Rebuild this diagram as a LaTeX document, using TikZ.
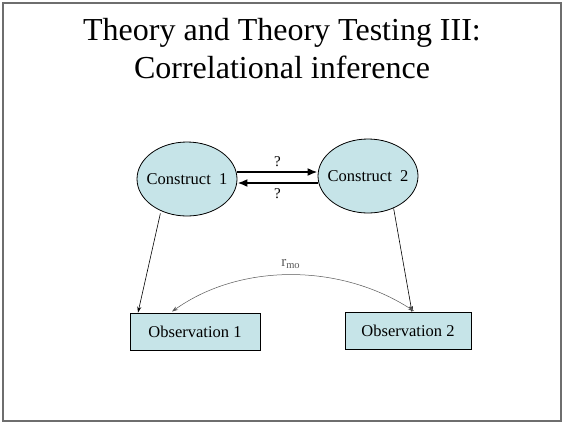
\documentclass[tikz,border=0pt]{standalone}
\usepackage{fontspec}
\setmainfont{Liberation Serif}
\usetikzlibrary{positioning,arrows.meta,shapes.geometric}
\definecolor{boxfill}{HTML}{C6E4E8}
\definecolor{framegray}{HTML}{6E6E6E}

\begin{document}
\begin{tikzpicture}[
    x=1pt, y=-1pt,
    construct/.style={draw, ellipse, fill=boxfill, line width=0.8pt, minimum width=100pt, minimum height=74pt, inner xsep=-11pt, inner ysep=0pt, font=\fontsize{16.5}{18}\selectfont},
    obsbox/.style={draw, rectangle, fill=boxfill, line width=0.8pt, minimum height=37pt, inner sep=0pt, font=\fontsize{16.5}{18}\selectfont},
    causal/.style={-{Latex[length=10pt, width=8pt]}, line width=2pt},
    measure/.style={-{Stealth[length=6pt, width=4pt]}, line width=0.6pt},
    corr/.style={{Stealth[length=6pt, width=4pt]}-{Stealth[length=6pt, width=4pt]}, line width=0.5pt, gray!70!black},
    label/.style={font=\fontsize{15}{17}\selectfont}
]
% Frame
\draw[framegray, line width=1.2pt, fill=white] (3,3) rectangle (561,421);
\useasboundingbox (0,0) rectangle (564,424);

% Title
\node[align=center, font=\fontsize{32}{38}\selectfont] (title) at (282,49) {Theory and Theory Testing III:\\Correlational inference};

% Constructs
\node[construct] (c1) at (187,179) {Construct\ \ 1};
\node[construct] (c2) at (368,176) {Construct\ \ 2};

% Observations
\node[obsbox, minimum width=130pt] (o1) at (195,331.5) {Observation 1};
\node[obsbox, minimum width=126pt] (o2) at (408,331) {Observation 2};

% Arrows between constructs
\draw[causal] ([yshift=7pt]c1.east) -- node[label, above=1pt]{?} ([yshift=7pt]c1.east -| c2.west);
\draw[causal] ([yshift=-7pt]c2.west) -- node[label, below=1pt]{?} ([yshift=-7pt]c2.west -| c1.east);

% Measurement paths
\draw[measure] (c1.south west) ++(9,8) coordinate (m1) -- ([xshift=-57pt]o1.north);
\draw[measure] (c2.south east) ++(-10,6) coordinate (m2) -- ([xshift=4pt]o2.north);

% Observed correlation
\draw[corr] ([xshift=-23pt, yshift=1pt]o1.north) .. controls (240,263) and (340,263) .. ([xshift=6pt, yshift=1pt]o2.north)
    node[pos=0.5, label, above=3pt] {r\textsubscript{mo}};
\end{tikzpicture}
\end{document}
